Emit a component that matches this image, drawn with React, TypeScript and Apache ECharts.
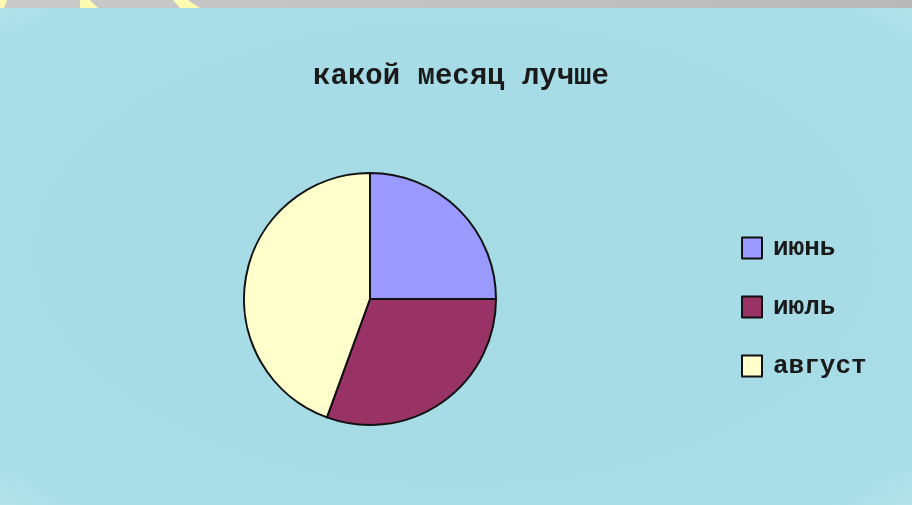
import React, { useEffect, useRef } from "react";
import * as echarts from "echarts";

const titleText = "какой месяц лучше";
const months = ["июнь", "июль", "август"];
const votes = [9, 11, 16];
const sliceColors = ["#9999ff", "#993366", "#ffffcc"];

export default function App() {
  const ref = useRef<HTMLDivElement>(null);
  useEffect(() => {
    if (!ref.current) return;
    const chart = echarts.init(ref.current, null, { renderer: "svg" });
    const font = "'Liberation Mono', 'DejaVu Sans Mono', monospace";
    chart.setOption({
      animation: false,
      backgroundColor: {
        type: "radial",
        x: 0.5,
        y: 0.5,
        r: 0.8,
        colorStops: [
          { offset: 0, color: "#a5dbe4" },
          { offset: 0.8, color: "#a8dde7" },
          { offset: 1, color: "#c6ecf0" },
        ],
      },
      graphic: [
        {
          type: "rect",
          silent: true,
          shape: { x: 0, y: 0, width: 912, height: 8 },
          style: {
            fill: {
              type: "linear",
              x: 0,
              y: 0,
              x2: 1,
              y2: 0,
              colorStops: [
                { offset: 0, color: "#cacaca" },
                { offset: 1, color: "#b9b9b9" },
              ],
            },
          },
        },
        {
          type: "polygon",
          silent: true,
          shape: { points: [[0, 0], [7, 0], [4, 8], [0, 8]] },
          style: { fill: "#fdfbb0" },
        },
        {
          type: "polygon",
          silent: true,
          shape: { points: [[80, 0], [90, 0], [98, 8], [80, 8]] },
          style: { fill: "#fdfbb0" },
        },
        {
          type: "polygon",
          silent: true,
          shape: { points: [[173, 0], [188, 0], [200, 8], [180, 8]] },
          style: { fill: "#fdfbb0" },
        },
      ],
      title: {
        text: titleText,
        left: 456,
        top: 57,
        textAlign: "center",
        textStyle: {
          fontFamily: font,
          fontSize: 29,
          fontWeight: "bold",
          color: "#1a1a1a",
        },
      },
      legend: {
        orient: "vertical",
        left: 736,
        top: 230,
        itemWidth: 20,
        itemHeight: 21,
        itemGap: 33,
        icon: "rect",
        selectedMode: false,
        data: months,
        itemStyle: { borderColor: "#111", borderWidth: 2 },
        textStyle: {
          fontFamily: font,
          fontSize: 26,
          fontWeight: "bold",
          color: "#1a1a1a",
          padding: [0, 0, 0, 6],
        },
      },
      series: [
        {
          type: "pie",
          center: [370, 299],
          radius: 126,
          startAngle: 90,
          clockwise: true,
          silent: true,
          label: { show: false },
          labelLine: { show: false },
          itemStyle: { borderColor: "#111", borderWidth: 2 },
          data: months.map((m, i) => ({
            name: m,
            value: votes[i],
            itemStyle: { color: sliceColors[i] },
          })),
        },
      ],
    });
    return () => chart.dispose();
  }, []);
  return (
    <div
      ref={ref}
      style={{ position: "fixed", left: 0, top: 0, width: 912, height: 505 }}
    />
  );
}
